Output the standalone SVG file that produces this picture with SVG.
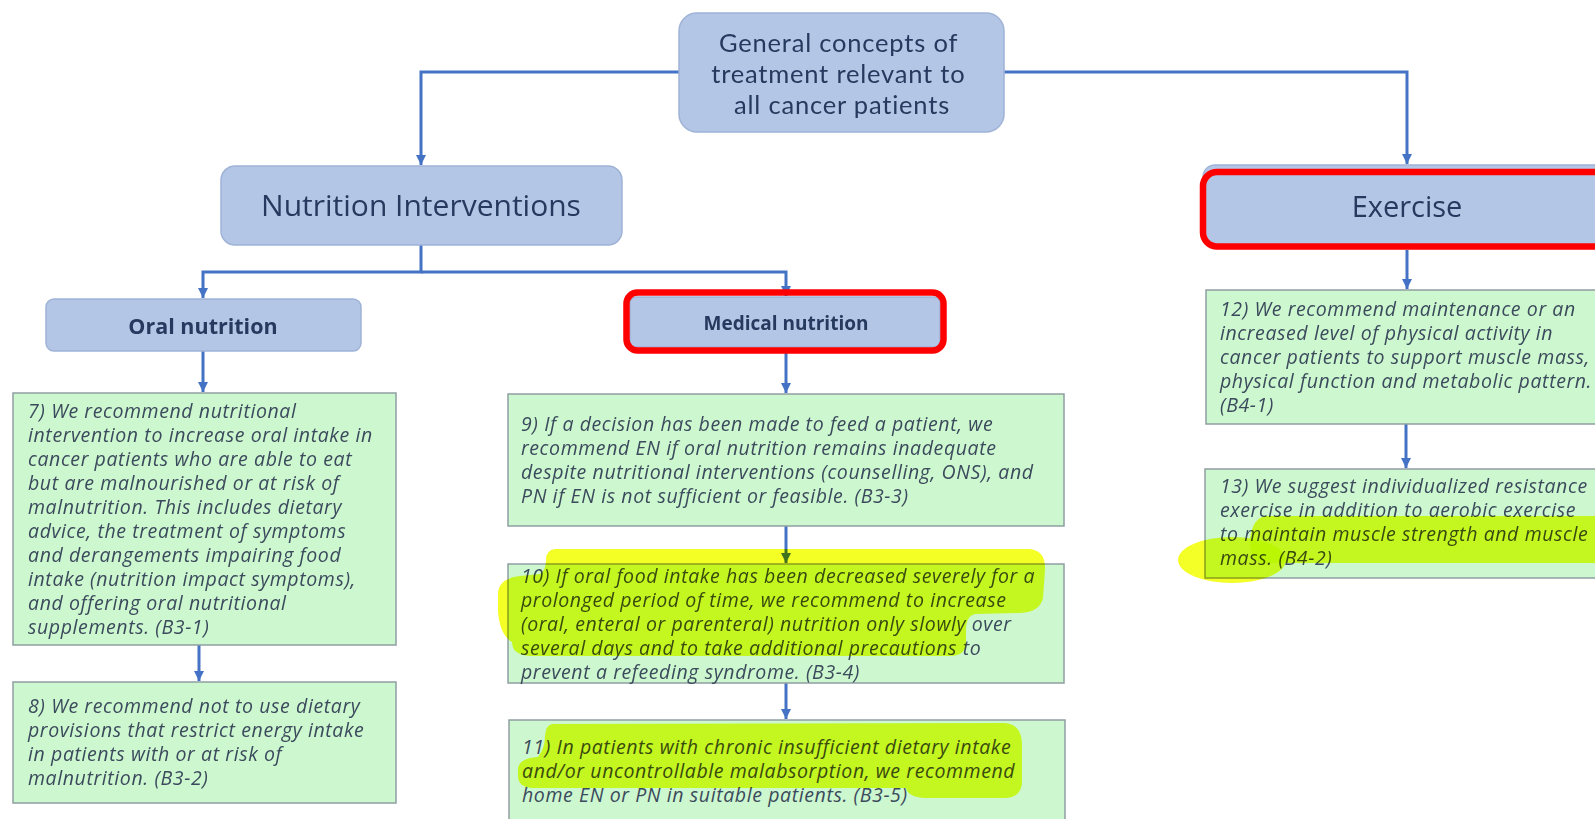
<svg xmlns="http://www.w3.org/2000/svg" width="1595" height="819" viewBox="0 0 1595 819">
  <style>
    .blue { fill: #b4c6e6; stroke: #9fb3d6; stroke-width: 1.5; }
    .green { fill: #cdf7cf; stroke: #8e9fa3; stroke-width: 1.5; }
    .red { fill: none; stroke: #ff0000; stroke-width: 6.5; }
    .title { font-family: "Open Sans", "Liberation Sans", sans-serif; fill: #253a5e; text-anchor: middle; }
    .head { font-family: Lato, "Open Sans", sans-serif; font-size: 25.5px; letter-spacing: 0.8px; fill: #253a5e; text-anchor: middle; }
    .bold { font-weight: bold; }
    .rec { font-family: "Open Sans", "Liberation Sans", sans-serif; font-style: italic; font-size: 19.5px; letter-spacing: 0.6px; fill: #3b4a5c; }
    .hl { fill: #f2ff00; opacity: 0.85; mix-blend-mode: multiply; }
    .conn { fill: none; stroke: #4472c4; stroke-width: 3; }
  </style>
  <defs>
    <marker id="arrow" markerUnits="userSpaceOnUse" markerWidth="12" markerHeight="12" refX="10" refY="5" orient="auto">
      <path d="M0,0 L10,5 L0,10 Z" fill="#4472c4"/>
    </marker>
  </defs>
  <rect width="1595" height="819" fill="#ffffff"/>

  <!-- connectors -->
  <g id="connectors">
    <path class="conn" d="M679,72 H421 V165" marker-end="url(#arrow)"/>
    <path class="conn" d="M1004,72 H1407 V164" marker-end="url(#arrow)"/>
    <path class="conn" d="M421,245 V272 H203 V298" marker-end="url(#arrow)"/>
    <path class="conn" d="M421,272 H786 V296" marker-end="url(#arrow)"/>
    <path class="conn" d="M203,351 V392" marker-end="url(#arrow)"/>
    <path class="conn" d="M199,645 V681" marker-end="url(#arrow)"/>
    <path class="conn" d="M786,350 V393" marker-end="url(#arrow)"/>
    <path class="conn" d="M786,526 V563" marker-end="url(#arrow)"/>
    <path class="conn" d="M786,683 V719" marker-end="url(#arrow)"/>
    <path class="conn" d="M1407,250 V289" marker-end="url(#arrow)"/>
    <path class="conn" d="M1406,424 V468" marker-end="url(#arrow)"/>
  </g>

  <g id="general">
    <rect class="blue" x="679" y="13" width="325" height="119" rx="18"/>
    <text class="head">
      <tspan x="842" y="52">General concepts of</tspan>
      <tspan x="842" y="83">treatment relevant to</tspan>
      <tspan x="842" y="114">all cancer patients</tspan>
    </text>
  </g>

  <g id="nutrition">
    <rect class="blue" x="221" y="166" width="401" height="79" rx="14"/>
    <text class="title" x="421" y="216" font-size="30">Nutrition Interventions</text>
  </g>

  <g id="exercise">
    <rect class="blue" x="1203" y="165" width="420" height="80" rx="12"/>
    <text class="title" x="1407" y="217" font-size="29">Exercise</text>
    <rect class="red" x="1203" y="172" width="420" height="74.5" rx="14"/>
  </g>

  <g id="oral">
    <rect class="blue" x="46" y="299" width="315" height="52" rx="8"/>
    <text class="title bold" x="203" y="334" font-size="21.5">Oral nutrition</text>
  </g>

  <g id="medical">
    <rect class="blue" x="630" y="297" width="310" height="50" rx="6"/>
    <text class="title bold" x="786" y="330" font-size="19">Medical nutrition</text>
    <rect class="red" x="626.5" y="292.5" width="317" height="58" rx="11"/>
  </g>

  <g id="rec7">
    <rect class="green" x="13" y="393" width="383" height="252"/>
    <text class="rec">
      <tspan x="28" y="418">7) We recommend nutritional</tspan>
      <tspan x="28" y="442">intervention to increase oral intake in</tspan>
      <tspan x="28" y="466">cancer patients who are able to eat</tspan>
      <tspan x="28" y="490">but are malnourished or at risk of</tspan>
      <tspan x="28" y="514">malnutrition. This includes dietary</tspan>
      <tspan x="28" y="538">advice, the treatment of symptoms</tspan>
      <tspan x="28" y="562">and derangements impairing food</tspan>
      <tspan x="28" y="586">intake (nutrition impact symptoms),</tspan>
      <tspan x="28" y="610">and offering oral nutritional</tspan>
      <tspan x="28" y="634">supplements. (B3-1)</tspan>
    </text>
  </g>

  <g id="rec8">
    <rect class="green" x="13" y="682" width="383" height="121"/>
    <text class="rec">
      <tspan x="28" y="713">8) We recommend not to use dietary</tspan>
      <tspan x="28" y="737">provisions that restrict energy intake</tspan>
      <tspan x="28" y="761">in patients with or at risk of</tspan>
      <tspan x="28" y="785">malnutrition. (B3-2)</tspan>
    </text>
  </g>

  <g id="rec9">
    <rect class="green" x="508" y="394" width="556" height="132"/>
    <text class="rec">
      <tspan x="521" y="431">9) If a decision has been made to feed a patient, we</tspan>
      <tspan x="521" y="455">recommend EN if oral nutrition remains inadequate</tspan>
      <tspan x="521" y="479">despite nutritional interventions (counselling, ONS), and</tspan>
      <tspan x="521" y="503">PN if EN is not sufficient or feasible. (B3-3)</tspan>
    </text>
  </g>

  <g id="rec10">
    <rect class="green" x="508" y="564" width="556" height="119"/>
    <text class="rec">
      <tspan x="521" y="583">10) If oral food intake has been decreased severely for a</tspan>
      <tspan x="521" y="607">prolonged period of time, we recommend to increase</tspan>
      <tspan x="521" y="631">(oral, enteral or parenteral) nutrition only slowly over</tspan>
      <tspan x="521" y="655">several days and to take additional precautions to</tspan>
      <tspan x="521" y="679">prevent a refeeding syndrome. (B3-4)</tspan>
    </text>
    <path class="hl" d="M555,549 L1030,549 Q1046,551 1045,570 L1043,598 Q1040,612 1020,613 L975,614 Q966,616 966,630 L966,645 Q964,656 950,656 L530,656 Q512,655 512,642 Q500,635 498,612 L498,592 Q500,578 520,576 L540,574 Q546,570 546,560 Q546,550 555,549 Z"/>
  </g>

  <g id="rec11">
    <rect class="green" x="509" y="720" width="556" height="110"/>
    <text class="rec">
      <tspan x="522" y="754">11) In patients with chronic insufficient dietary intake</tspan>
      <tspan x="522" y="778">and/or uncontrollable malabsorption, we recommend</tspan>
      <tspan x="522" y="802">home EN or PN in suitable patients. (B3-5)</tspan>
    </text>
    <path class="hl" d="M552,724 L1004,723 Q1022,724 1022,745 L1022,784 Q1020,798 1004,798 L925,798 Q908,797 906,788 L532,788 Q518,787 518,776 L518,768 Q520,758 538,757 Q545,748 545,736 Q546,725 552,724 Z"/>
  </g>

  <g id="rec12">
    <rect class="green" x="1206" y="290" width="400" height="134"/>
    <text class="rec">
      <tspan x="1220" y="316">12) We recommend maintenance or an</tspan>
      <tspan x="1220" y="340">increased level of physical activity in</tspan>
      <tspan x="1220" y="364">cancer patients to support muscle mass,</tspan>
      <tspan x="1220" y="388">physical function and metabolic pattern.</tspan>
      <tspan x="1220" y="412">(B4-1)</tspan>
    </text>
  </g>

  <g id="rec13">
    <rect class="green" x="1205" y="469" width="400" height="109"/>
    <text class="rec">
      <tspan x="1220" y="493">13) We suggest individualized resistance</tspan>
      <tspan x="1220" y="517">exercise in addition to aerobic exercise</tspan>
      <tspan x="1220" y="541">to maintain muscle strength and muscle</tspan>
      <tspan x="1220" y="565">mass. (B4-2)</tspan>
    </text>
    <path class="hl" d="M1266,516 L1600,516 L1600,563 L1262,563 Q1249,560 1250,540 Q1252,518 1266,516 Z"/>
    <ellipse class="hl" cx="1232" cy="560" rx="54" ry="23"/>
  </g>
</svg>
